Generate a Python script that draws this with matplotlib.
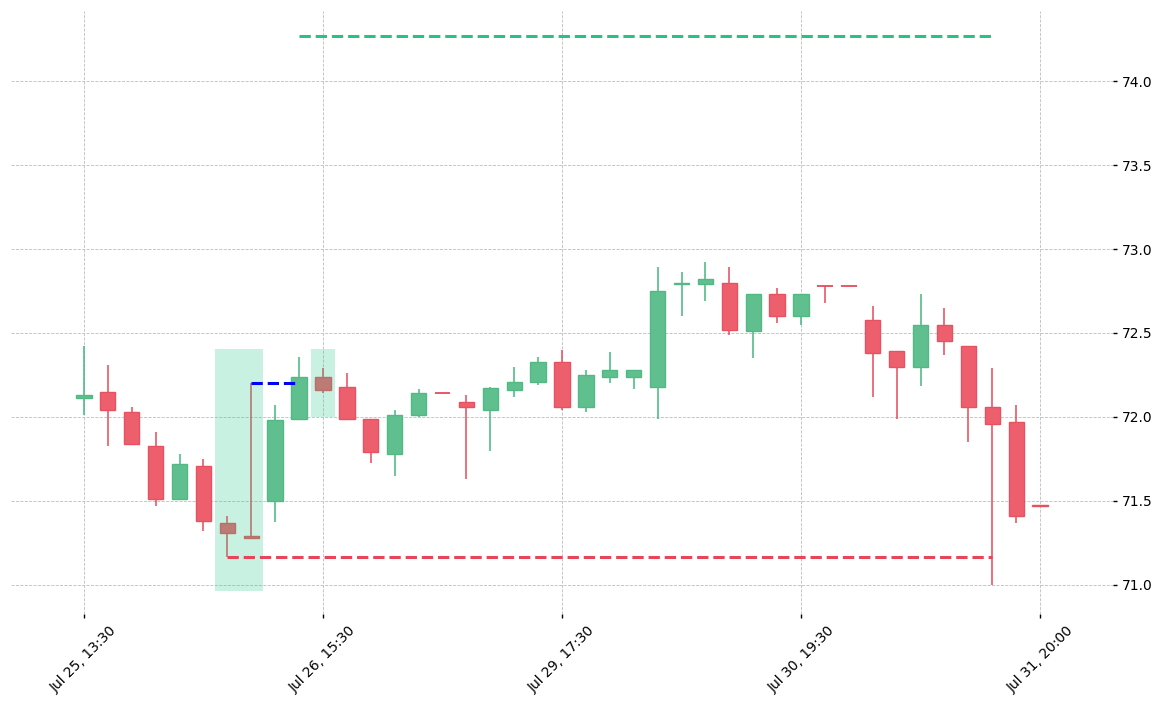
import matplotlib
matplotlib.use("Agg")
import matplotlib.pyplot as plt
from matplotlib.patches import Rectangle

# ---- data ----
opens = [72.11, 72.15, 72.03, 71.83, 71.51, 71.71, 71.37, 71.29, 71.50, 71.99,
         72.24, 72.18, 71.99, 71.78, 72.01, 72.14, 72.09, 72.04, 72.16, 72.21,
         72.33, 72.06, 72.24, 72.24, 72.18, 72.79, 72.79, 72.80, 72.51, 72.73,
         72.60, 72.78, 72.78, 72.58, 72.39, 72.30, 72.55, 72.42, 72.06, 71.97,
         71.475]
closes = [72.13, 72.04, 71.84, 71.51, 71.72, 71.38, 71.31, 71.28, 71.98, 72.24,
          72.16, 71.99, 71.79, 72.01, 72.14, 72.14, 72.06, 72.17, 72.21, 72.33,
          72.06, 72.25, 72.28, 72.28, 72.75, 72.80, 72.82, 72.52, 72.73, 72.60,
          72.73, 72.78, 72.78, 72.38, 72.30, 72.55, 72.45, 72.06, 71.96, 71.41,
          71.47]
highs = [72.42, 72.31, 72.06, 71.91, 71.78, 71.75, 71.41, 72.20, 72.07, 72.36,
         72.29, 72.26, 71.99, 72.04, 72.165, 72.14, 72.13, 72.18, 72.30, 72.355,
         72.40, 72.28, 72.385, 72.28, 72.89, 72.865, 72.925, 72.89, 72.735, 72.765,
         72.735, 72.78, 72.78, 72.66, 72.39, 72.73, 72.65, 72.42, 72.29, 72.07,
         71.475]
lows = [72.01, 71.83, 71.84, 71.47, 71.51, 71.32, 71.165, 71.28, 71.375, 71.98,
        72.14, 71.99, 71.725, 71.65, 72.00, 72.14, 71.63, 71.80, 72.12, 72.19,
        72.04, 72.03, 72.20, 72.165, 71.99, 72.60, 72.69, 72.49, 72.35, 72.56,
        72.55, 72.68, 72.78, 72.12, 71.99, 72.185, 72.37, 71.85, 71.00, 71.37,
        71.47]

tick_positions = [0, 10, 20, 30, 40]
tick_labels = ["Jul 25, 13:30", "Jul 26, 15:30", "Jul 29, 17:30",
               "Jul 30, 19:30", "Jul 31, 20:00"]
y_ticks = [71.0, 71.5, 72.0, 72.5, 73.0, 73.5, 74.0]

# highlight zones
zone_x0 = [5.5, 9.5]
zone_x1 = [7.5, 10.5]
zone_low = [70.966, 72.0]
zone_high = [72.405, 72.405]

# horizontal levels
target_level = 74.268
target_span = [9, 38]
entry_level = 72.20
entry_span = [7, 9]
stop_level = 71.165
stop_span = [6, 38]

# ---- styling ----
UP_BODY = "#5fbf8f"
UP_EDGE = "#52b985"
UP_WICK = "#46b67e"
DN_BODY = "#ee5f6e"
DN_EDGE = "#e8515f"
DN_WICK = "#e54a5b"
ZONE = "#2ecc8c"

fig = plt.figure(figsize=(11.71, 7.04), dpi=100)
ax = fig.add_axes([11 / 1171, 90 / 704, (1113 - 11) / 1171, (614 - 11) / 704])

width = 0.64
for i, (o, c, h, l) in enumerate(zip(opens, closes, highs, lows)):
    up = c > o
    body_c = UP_BODY if up else DN_BODY
    edge_c = UP_EDGE if up else DN_EDGE
    wick_c = UP_WICK if up else DN_WICK
    ax.vlines(i, l, h, color=wick_c, linewidth=1.1, zorder=2)
    bottom = min(o, c)
    height = abs(c - o)
    if height < 0.004:
        ax.hlines((o + c) / 2, i - width / 2, i + width / 2, color=wick_c,
                  linewidth=1.3, zorder=3)
    else:
        ax.add_patch(Rectangle((i - width / 2, bottom), width, height,
                               facecolor=body_c, edgecolor=edge_c,
                               linewidth=1.0, zorder=3))

for x0, x1, lo, hi in zip(zone_x0, zone_x1, zone_low, zone_high):
    ax.add_patch(Rectangle((x0, lo), x1 - x0, hi - lo, facecolor=ZONE,
                           edgecolor="none", alpha=0.26, zorder=4))

ax.hlines(target_level, target_span[0], target_span[1], color="#2fbf84",
          linestyle="--", linewidth=2.2, zorder=5)
ax.hlines(entry_level, entry_span[0], entry_span[1], color="#0000ff",
          linestyle="--", linewidth=2.2, zorder=5)
ax.hlines(stop_level, stop_span[0], stop_span[1], color="#e8445a",
          linestyle="--", linewidth=2.2, zorder=5)

ax.set_xlim(-3.05, 43.05)
ax.set_ylim(70.827, 74.417)

ax.set_xticks(tick_positions)
ax.set_xticklabels(tick_labels, rotation=45, ha="center", fontsize=10)
ax.set_yticks(y_ticks)
ax.set_yticklabels([f"{v:.1f}" for v in y_ticks], fontsize=10)
ax.yaxis.tick_right()
ax.tick_params(axis="both", length=3, width=1, color="black")
ax.tick_params(axis="x", pad=4)

for s in ax.spines.values():
    s.set_visible(False)
ax.grid(True, linestyle="--", linewidth=0.6, color="#bdbdbd")
ax.set_axisbelow(True)

fig.savefig("out.png", dpi=100, facecolor="white")
